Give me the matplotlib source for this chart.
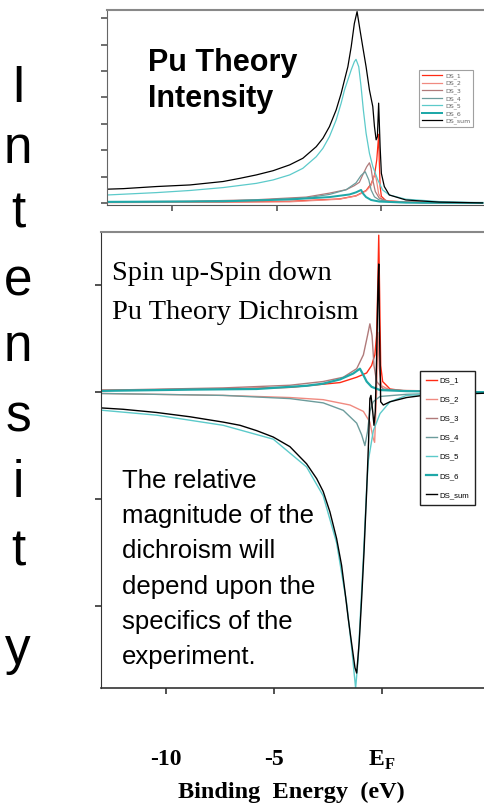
import matplotlib
matplotlib.use("Agg")
import matplotlib.pyplot as plt

plt.rcParams['mathtext.fontset'] = 'custom'
plt.rcParams['mathtext.rm'] = 'Liberation Serif'
plt.rcParams['mathtext.bf'] = 'Liberation Serif:bold'

# ---------------- data: top panel (intensity) ----------------
top_sum_x = [-13.08, -12.32, -10.73, -9.14, -7.56, -6.76, -5.97, -5.17, -4.38, -3.75, -3.11, -2.79, -2.48,
             -2.16, -1.92, -1.76, -1.60, -1.44, -1.29, -1.16, -1.02, -0.89, -0.73, -0.57, -0.41, -0.33,
             -0.25, -0.19, -0.13, -0.06, 0.0, 0.14, 0.38, 1.17, 2.76, 4.83]
top_sum_y = [0.52, 0.54, 0.62, 0.68, 0.81, 0.93, 1.06, 1.22, 1.44, 1.69, 2.13, 2.45, 2.89,
             3.52, 4.15, 4.66, 5.16, 5.92, 6.80, 7.25, 6.55, 5.92, 5.16, 4.28, 3.65, 2.89,
             2.39, 2.51, 3.78, 2.13, 1.12, 0.62, 0.30, 0.11, 0.03, 0.0]

top_ds5_x = [-13.08, -10.73, -9.14, -7.56, -5.97, -5.17, -4.38, -3.75, -3.11, -2.79, -2.48, -2.16, -1.92,
             -1.76, -1.60, -1.44, -1.29, -1.21, -1.08, -0.97, -0.86, -0.73, -0.57, -0.41, -0.17, 0.06,
             0.38, 1.17, 2.76, 4.83]
top_ds5_y = [0.30, 0.39, 0.47, 0.58, 0.74, 0.87, 1.06, 1.31, 1.75, 2.07, 2.51, 3.14, 3.78,
             4.28, 4.66, 5.04, 5.35, 5.44, 5.16, 4.41, 3.52, 2.64, 1.88, 1.38, 0.87, 0.49,
             0.30, 0.14, 0.05, 0.0]

top_ds1_x = [-13.08, -7.56, -4.38, -2.0, -1.21, -0.73, -0.49, -0.33, -0.22, -0.16, -0.13, -0.10,
             -0.06, 0.0, 0.22, 1.17, 4.83]
top_ds1_y = [0.02, 0.03, 0.06, 0.15, 0.27, 0.47, 0.72, 1.04, 1.63, 2.26, 2.60, 1.60,
             0.62, 0.25, 0.08, 0.03, 0.0]

top_ds2_x = [-13.08, -4.38, -2.0, -1.21, -0.73, -0.49, -0.37, -0.30, -0.22, -0.13, 0.06, 1.17, 4.83]
top_ds2_y = [0.01, 0.04, 0.14, 0.26, 0.45, 0.66, 0.98, 1.10, 0.80, 0.34, 0.10, 0.03, 0.0]

top_ds3_x = [-13.08, -9.14, -5.97, -3.59, -2.48, -1.68, -1.30, -1.05, -0.89, -0.70, -0.57, -0.49,
             -0.41, -0.29, -0.10, 0.38, 2.0, 4.83]
top_ds3_y = [0.04, 0.06, 0.12, 0.22, 0.37, 0.50, 0.65, 0.78, 1.06, 1.37, 1.52, 1.30,
             0.87, 0.43, 0.18, 0.05, 0.01, 0.0]

top_ds4_x = [-13.08, -9.14, -5.97, -3.59, -2.48, -1.68, -1.21, -0.97, -0.77, -0.60, -0.49, -0.33,
             -0.10, 0.38, 2.0, 4.83]
top_ds4_y = [0.02, 0.05, 0.10, 0.19, 0.32, 0.50, 0.76, 1.04, 1.18, 0.87, 0.49, 0.23,
             0.11, 0.04, 0.0, 0.0]

top_ds6_x = [-13.08, -7.56, -4.38, -2.48, -1.52, -1.21, -0.97, -0.86, -0.73, -0.49, -0.10, 1.17, 4.83]
top_ds6_y = [0.04, 0.06, 0.13, 0.22, 0.32, 0.40, 0.49, 0.34, 0.22, 0.11, 0.05, 0.01, 0.0]

# ---------------- data: bottom panel (dichroism) ----------------
bot_sum_x = [-13.02, -11.98, -10.43, -8.89, -7.35, -6.57, -5.80, -5.03, -4.26, -3.49, -3.02, -2.72,
             -2.41, -2.10, -1.87, -1.71, -1.56, -1.40, -1.25, -1.17, -1.05, -0.94, -0.83, -0.71,
             -0.62, -0.56, -0.51, -0.43, -0.37, -0.31, -0.25, -0.19, -0.15, -0.12, -0.06, 0.06,
             0.37, 1.14, 1.91, 4.69]
bot_sum_y = [-0.147, -0.16, -0.19, -0.23, -0.28, -0.31, -0.36, -0.42, -0.51, -0.67, -0.81, -0.93,
             -1.12, -1.37, -1.62, -1.87, -2.12, -2.36, -2.58, -2.63, -2.33, -1.93, -1.49, -0.93,
             -0.46, -0.06, -0.03, -0.18, -0.31, -0.18, 0.31, 0.94, 1.20, 0.63, -0.09, -0.12,
             -0.09, -0.05, -0.03, -0.01]

bot_ds5_x = [-13.02, -10.43, -7.35, -5.03, -3.49, -2.72, -2.10, -1.64, -1.40, -1.22, -1.10, -0.99,
             -0.86, -0.71, -0.63, -0.40, -0.09, 0.37, 1.14, 4.69]
bot_ds5_y = [-0.168, -0.215, -0.31, -0.44, -0.70, -0.97, -1.41, -1.97, -2.40, -2.77, -2.49, -2.05,
             -1.55, -0.90, -0.64, -0.36, -0.20, -0.09, -0.03, 0.0]

bot_ds6_x = [-13.02, -8.89, -5.80, -3.49, -2.72, -1.94, -1.33, -1.02, -0.86, -0.71, -0.48, -0.09, 1.14, 4.69]
bot_ds6_y = [0.012, 0.024, 0.03, 0.06, 0.08, 0.12, 0.175, 0.22, 0.16, 0.10, 0.05, 0.02, 0.01, 0.0]

bot_ds3_x = [-13.02, -7.35, -4.26, -2.72, -1.79, -1.17, -0.86, -0.67, -0.56, -0.46, -0.37, -0.25,
             0.06, 1.14, 4.69]
bot_ds3_y = [0.018, 0.04, 0.065, 0.10, 0.14, 0.22, 0.35, 0.53, 0.64, 0.53, 0.25, 0.10,
             0.03, 0.01, 0.0]

bot_ds4_x = [-13.02, -7.35, -4.26, -2.72, -1.79, -1.17, -0.94, -0.79, -0.67, -0.56, -0.41, -0.09,
             1.14, 4.69]
bot_ds4_y = [-0.012, -0.03, -0.06, -0.10, -0.17, -0.29, -0.40, -0.50, -0.37, -0.18, -0.09, -0.04,
             -0.02, 0.0]

bot_ds2_x = [-13.02, -7.35, -4.26, -2.72, -1.48, -0.86, -0.56, -0.41, -0.34, -0.25, -0.19, -0.12,
             -0.02, 0.37, 4.69]
bot_ds2_y = [-0.012, -0.03, -0.05, -0.07, -0.12, -0.18, -0.28, -0.43, -0.47, 0.0, 0.56, 0.22,
             0.06, 0.02, 0.0]

bot_ds1_x = [-13.02, -7.35, -4.26, -1.94, -1.17, -0.71, -0.48, -0.33, -0.25, -0.20, -0.15, -0.11,
             -0.06, 0.03, 0.37, 1.14, 4.69]
bot_ds1_y = [0.018, 0.03, 0.045, 0.09, 0.14, 0.18, 0.25, 0.35, 0.53, 0.94, 1.47, 0.94,
             0.25, 0.10, 0.03, 0.01, 0.0]

series_names = ["DS_1", "DS_2", "DS_3", "DS_4", "DS_5", "DS_6", "DS_sum"]
series_colors = ["#ff2a14", "#f08a80", "#b07a7a", "#6c9c9c", "#5ccaca", "#1fa8a8", "#000000"]
series_widths = [1.0, 1.0, 1.0, 1.0, 1.0, 1.6, 1.0]

top_x = [top_ds1_x, top_ds2_x, top_ds3_x, top_ds4_x, top_ds5_x, top_ds6_x, top_sum_x]
top_y = [top_ds1_y, top_ds2_y, top_ds3_y, top_ds4_y, top_ds5_y, top_ds6_y, top_sum_y]
bot_x = [bot_ds1_x, bot_ds2_x, bot_ds3_x, bot_ds4_x, bot_ds5_x, bot_ds6_x, bot_sum_x]
bot_y = [bot_ds1_y, bot_ds2_y, bot_ds3_y, bot_ds4_y, bot_ds5_y, bot_ds6_y, bot_sum_y]

x_ticks = [-10, -5, 0]
x_ticklabels = ["-10", "-5", r"$\mathbf{E}_\mathbf{F}$"]
top_yticks = [0, 1, 2, 3, 4, 5, 6, 7]
bot_yticks = [-2, -1, 0, 1]
intensity_letters = ["I", "n", "t", "e", "n", "s", "i", "t", "y"]
intensity_y_px = [102, 163, 227, 296, 361, 431, 497, 565, 664]

W, H = 484, 809
fig = plt.figure(figsize=(W / 100, H / 100), dpi=100)

# ---------- top axes ----------
axt = fig.add_axes([107 / W, 1 - 205 / H, (W - 107) / W, (205 - 10) / H])
for xs, ys, c, lw, n in zip(top_x, top_y, series_colors, series_widths, series_names):
    axt.plot(xs, ys, color=c, lw=lw * 0.9, label=n)
axt.set_xlim(-13.1, 4.9)
axt.set_ylim(-0.08, 7.31)
axt.set_xticks(x_ticks)
axt.set_xticklabels([])
axt.set_yticks(top_yticks)
axt.set_yticklabels([])
axt.tick_params(direction='out', length=4, width=1.2, color='#555555')
axt.spines['right'].set_visible(False)
axt.spines['top'].set_color('#888888')
axt.spines['top'].set_linewidth(1.5)
axt.spines['left'].set_color('#666666')
axt.spines['bottom'].set_color('#555555')
leg1 = axt.legend(loc='upper left', bbox_to_anchor=((419 - 107) / (W - 107), (205 - 70) / 195),
                  borderaxespad=0, fontsize=4.5, frameon=True, fancybox=False, handlelength=3.2,
                  handletextpad=0.5, labelspacing=0.24, borderpad=0.45, labelcolor='#666666')
leg1.get_frame().set_edgecolor('#888888')
leg1.get_frame().set_linewidth(0.8)
axt.text((148 - 107) / (W - 107), (205 - 48) / 195, "Pu Theory\nIntensity", transform=axt.transAxes,
         fontsize=22, fontweight='bold', family='Liberation Sans', va='top', ha='left', linespacing=1.27)

# ---------- bottom axes ----------
axb = fig.add_axes([101 / W, 1 - 688 / H, (W - 101) / W, (688 - 232) / H])
for xs, ys, c, lw, n in zip(bot_x, bot_y, series_colors, series_widths, series_names):
    axb.plot(xs, ys, color=c, lw=lw, label=n)
axb.set_xlim(-13.0, 4.72)
axb.set_ylim(-2.77, 1.5)
axb.set_xticks(x_ticks)
axb.set_xticklabels(x_ticklabels, fontsize=17, fontweight='bold', family='Liberation Serif')
axb.set_yticks(bot_yticks)
axb.set_yticklabels([])
axb.tick_params(direction='out', length=4, width=1.2, color='#333333')
axb.tick_params(axis='x', pad=40)
axb.spines['right'].set_visible(False)
axb.spines['top'].set_color('#888888')
axb.spines['top'].set_linewidth(1.5)
axb.spines['left'].set_color('#333333')
axb.spines['bottom'].set_color('#333333')
axb.spines['bottom'].set_linewidth(1.2)
leg2 = axb.legend(loc='upper left', bbox_to_anchor=((420 - 101) / (W - 101), (688 - 371) / 456),
                  borderaxespad=0, prop={'family': 'Liberation Sans', 'size': 5.6},
                  frameon=True, fancybox=False, handlelength=1.4, handletextpad=0.3,
                  labelspacing=1.5, borderpad=0.75)
leg2.get_frame().set_edgecolor('#222222')
leg2.get_frame().set_linewidth(1.0)
leg2.get_frame().set_alpha(1)
axb.text((112 - 101) / (W - 101), (688 - 261) / 456, "Spin up-Spin down\nPu Theory Dichroism",
         transform=axb.transAxes, fontsize=20.5, family='Liberation Serif', va='top', ha='left',
         linespacing=1.72)
axb.text((122 - 101) / (W - 101), (688 - 469) / 456,
         "The relative\nmagnitude of the\ndichroism will\ndepend upon the\nspecifics of the\nexperiment.",
         transform=axb.transAxes, fontsize=18.5, family='Liberation Sans', va='top', ha='left',
         linespacing=1.59)

fig.text(291 / W, 1 - 792 / H, "Binding  Energy  (eV)", fontsize=17.5, fontweight='bold',
         family='Liberation Serif', ha='center', va='center')

for letter, ypx in zip(intensity_letters, intensity_y_px):
    fig.text(18 / W, 1 - ypx / H, letter, fontsize=37, family='Liberation Sans', ha='center',
             va='baseline')

fig.savefig("out.png", dpi=100)
